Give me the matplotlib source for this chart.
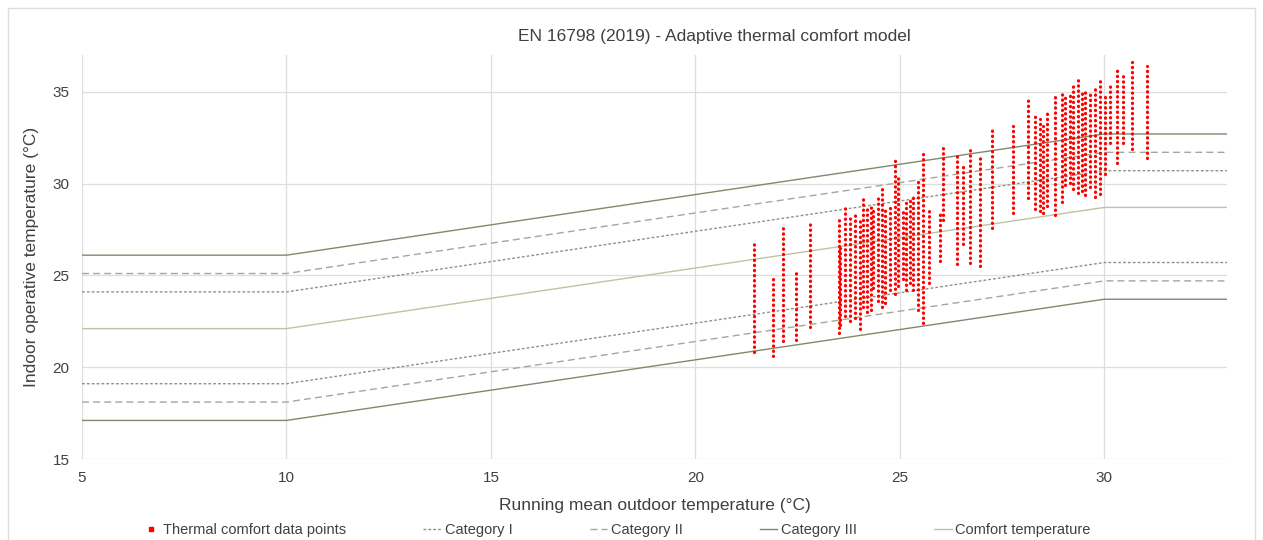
import matplotlib
matplotlib.use("Agg")
import matplotlib.pyplot as plt
from matplotlib.lines import Line2D
from matplotlib.patches import Rectangle

plt.rcParams["font.family"] = ["Liberation Sans", "DejaVu Sans"]

# adaptive model lines (EN 16798), breakpoints of running mean outdoor temperature
x_model = [5, 10, 30, 33]
comfort = [22.1, 22.1, 28.7, 28.7]
cat1_upper = [24.1, 24.1, 30.7, 30.7]
cat1_lower = [19.1, 19.1, 25.7, 25.7]
cat2_upper = [25.1, 25.1, 31.7, 31.7]
cat2_lower = [18.1, 18.1, 24.7, 24.7]
cat3_upper = [26.1, 26.1, 32.7, 32.7]
cat3_lower = [17.1, 17.1, 23.7, 23.7]

# measured points, read as vertical streaks: outdoor temp, lowest and highest indoor temp
col_x = [21.43, 21.89, 22.14, 22.46, 22.80, 23.51, 23.53, 23.66, 23.78, 23.90,
         24.02, 24.10, 24.19, 24.29, 24.34, 24.46, 24.56, 24.63, 24.76, 24.88,
         24.95, 25.07, 25.15, 25.24, 25.32, 25.44, 25.56, 25.71, 25.98, 26.05,
         26.39, 26.54, 26.71, 26.96, 27.25, 27.76, 28.13, 28.30, 28.42, 28.50,
         28.59, 28.79, 28.96, 29.03, 29.16, 29.23, 29.35, 29.45, 29.52, 29.65,
         29.77, 29.89, 30.01, 30.13, 30.31, 30.45, 30.67, 31.04]
col_min = [20.8, 20.6, 21.4, 21.5, 22.2, 21.85, 22.3, 22.8, 22.5, 22.7,
           22.1, 23.3, 23.0, 23.1, 24.3, 23.6, 23.3, 23.5, 24.2, 24.0,
           24.4, 24.8, 24.2, 24.6, 24.2, 23.1, 22.4, 24.6, 25.8, 28.0,
           25.6, 26.7, 25.7, 25.5, 27.6, 28.4, 29.2, 28.6, 28.5, 28.4,
           28.8, 28.3, 29.0, 29.9, 30.05, 29.7, 29.5, 29.6, 29.35, 29.8,
           29.25, 29.45, 30.5, 32.2, 31.1, 32.2, 31.9, 31.4]
col_max = [26.9, 24.8, 27.6, 25.3, 27.8, 28.0, 26.5, 28.9, 28.2, 28.5,
           28.0, 29.2, 28.6, 28.9, 28.5, 29.2, 29.7, 28.7, 28.8, 31.4,
           30.5, 28.5, 29.0, 29.1, 29.4, 30.3, 31.8, 28.7, 28.5, 32.1,
           31.7, 31.1, 31.8, 31.5, 33.0, 33.15, 34.7, 33.7, 33.5, 33.15,
           34.0, 34.9, 34.95, 34.8, 34.8, 35.4, 35.8, 35.0, 35.2, 34.9,
           35.15, 35.6, 34.95, 35.4, 36.4, 36.1, 36.6, 36.4]

line_color = "#7d8a6c"
grid_color = "#dedede"
text_color = "#404040"

fig = plt.figure(figsize=(12.63, 5.4), dpi=100)
fig.patches.append(Rectangle((8 / 1263, -0.01), 1247 / 1263, 1 - 8 / 540 + 0.01,
                             transform=fig.transFigure, fill=False,
                             edgecolor=grid_color, linewidth=1))
ax = fig.add_axes([82 / 1263, 81 / 540, 1145 / 1263, 404 / 540])

ax.vlines(col_x, col_min, col_max, colors="#ff0000", linewidth=2.3,
          linestyles=[(0, (0.1, 1.5))], capstyle="round", zorder=3)

ax.plot(x_model, cat1_upper, color="#8c9480", lw=1, ls=(0, (2, 1.5)), zorder=2)
ax.plot(x_model, cat1_lower, color="#8c9480", lw=1, ls=(0, (2, 1.5)), zorder=2)
ax.plot(x_model, cat2_upper, color="#a3a898", lw=1, ls=(0, (5, 3)), zorder=2)
ax.plot(x_model, cat2_lower, color="#a3a898", lw=1, ls=(0, (5, 3)), zorder=2)
ax.plot(x_model, cat3_upper, color=line_color, lw=1, zorder=2)
ax.plot(x_model, cat3_lower, color=line_color, lw=1, zorder=2)
ax.plot(x_model, comfort, color="#b9c6a0", lw=1, zorder=2)

ax.set_xlim(5, 33)
ax.set_ylim(15, 37)
ax.set_xticks([5, 10, 15, 20, 25, 30])
ax.set_yticks([15, 20, 25, 30, 35])
ax.grid(True, color=grid_color, linewidth=0.9, zorder=0)
ax.set_axisbelow(True)
for s in ax.spines.values():
    s.set_visible(False)
ax.tick_params(length=0, labelsize=11, colors=text_color, pad=9)

ax.set_xlabel("Running mean outdoor temperature (°C)", fontsize=12.5,
              color=text_color, labelpad=9)
ax.set_ylabel("Indoor operative temperature (°C)", fontsize=12.5,
              color=text_color, labelpad=10)
fig.text(0.566, 0.933, "EN 16798 (2019) - Adaptive thermal comfort model",
         ha="center", va="center", fontsize=12.5, color=text_color)

handles = [
    Line2D([], [], marker="s", color="#ff0000", markersize=2.5, linestyle="none"),
    Line2D([], [], color="#8c9480", lw=1, ls=(0, (2, 1.5))),
    Line2D([], [], color="#a3a898", lw=1, ls=(0, (5, 3))),
    Line2D([], [], color=line_color, lw=1),
    Line2D([], [], color="#b9c6a0", lw=1),
]
labels = ["Thermal comfort data points", "Category I", "Category II",
          "Category III", "Comfort temperature"]
fig.legend(handles, labels, loc="center", bbox_to_anchor=(0.488, 0.018),
           ncol=5, frameon=False, fontsize=10.5, handlelength=1.2,
           handletextpad=0.25, columnspacing=5.3, labelcolor=text_color)

fig.savefig("out.png", dpi=100)
